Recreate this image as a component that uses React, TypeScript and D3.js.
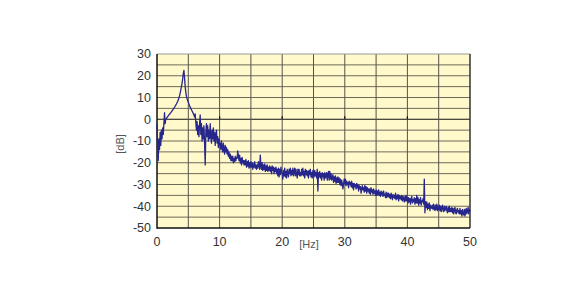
import React from "react";
import * as d3 from "d3";

const FREQ_STEP = 0.1;
const db0to10 = [
  -2, -12, -19, -9, -14, -6, -12, -5, -9, -4,
  -7, -2, 3, -2, 0, 0.3, 0.8, 1.2, 1.6, 2.0,
  2.3, 2.7, 3.0, 3.4, 3.8, 4.2, 4.6, 5.0, 5.5, 6.0,
  6.5, 7.0, 7.6, 8.2, 9.0, 9.8, 10.8, 12.0, 13.5, 15.0,
  16.5, 18.5, 21, 22.5, 19, 15, 12.5, 10.5, 9.5, 8.5,
  8, 7, 6.2, 5.6, 5.0, 4.4, 3.8, 3.2, 2.6, 2.0,
  1.0, 2.5, -1.5, -5, -1, -7, -3, -8, -2, 2,
  -7, -2, -10, -4, -9, -3, -11, -21, -6, -2,
  -8, -3, -10, -5, -9, -2, -8, -11, -5, -9,
  -4, -10, -6, -12, -7, -5, -11, -8, -13, -9,
];
const db10to20 = [
  -12, -11, -14, -10, -13, -15, -11, -14, -16, -12,
  -15, -13, -16, -14, -17, -15, -18, -16, -19, -17,
  -19, -17, -20, -18, -19.5, -17, -19, -17.5, -18, -14.5,
  -17, -19, -16.5, -20, -18, -21, -17.5, -20, -19, -21,
  -19, -21, -18.5, -22, -19.5, -21.5, -19, -22.5, -20, -22,
  -19.5, -22, -20, -23, -20.5, -22, -19.5, -22.5, -21, -23,
  -21, -22.5, -19.5, -21, -23, -16.5, -21.5, -23, -20, -23.5,
  -21, -23, -20.5, -24, -21.5, -23.5, -21, -24, -22, -23.5,
  -21.5, -24, -22, -25, -21.5, -23.5, -22, -25, -22.5, -24,
  -22, -25, -23, -26, -22.5, -26.5, -23, -25.5, -22, -24.5,
];
const db20to30 = [
  -25, -27.5, -23.5, -26, -22.5, -26.5, -24, -27, -23, -25,
  -26.5, -23, -25, -22.5, -26, -23.5, -25.5, -22.5, -26, -24,
  -22.5, -26, -23, -25.5, -27, -23, -25.5, -23, -26, -24.5,
  -26, -23, -25.5, -22.5, -26, -24, -27, -23, -25.5, -23.5,
  -26, -24, -27, -23.5, -25.5, -23, -26.5, -24.5, -27, -23.5,
  -25, -26.5, -23.5, -26, -24.5, -27, -23, -33, -24.5, -26.5,
  -24, -27, -25, -28, -24.5, -26.5, -25, -28, -24.5, -27,
  -26, -24.5, -28, -25.5, -24, -28, -24, -27.5, -25, -28,
  -27, -25.5, -29, -26.5, -28.5, -26, -29.5, -27, -29, -26.5,
  -29, -27, -30, -27.5, -30.5, -28, -29.5, -32, -30, -27.5,
];
const db30to40 = [
  -29.5, -27.5, -30.5, -28.5, -30, -29, -31.5, -28.5, -30, -29,
  -31, -28.5, -31.5, -29.5, -32.5, -29.5, -31, -30, -32, -29.5,
  -31.5, -30, -33, -30.5, -32, -31, -34, -32, -30.5, -32.5,
  -31.5, -33.5, -30.5, -33, -31, -34, -31.5, -33, -32, -34,
  -32, -34.5, -31.5, -33.5, -32.5, -34.5, -32, -34, -33, -35,
  -32.5, -35, -33, -34.5, -32.5, -35, -33.5, -35.5, -33, -34.5,
  -33.5, -35.5, -33, -35, -34.5, -36, -33.5, -36, -34, -35.5,
  -34, -36, -34.5, -36.5, -34, -35.5, -37, -34.5, -36, -35,
  -36.5, -34, -37, -35, -36.5, -34.5, -37.5, -35, -36.5, -35.5,
  -37, -35, -37.5, -35.5, -36.5, -38, -35.5, -37.5, -35, -37.5,
];
const db40to50 = [
  -36, -38.5, -36, -38, -36.5, -39, -36.5, -35.5, -38.5, -37,
  -38, -36, -39, -36.5, -38.5, -35, -38.5, -36, -39.5, -37,
  -38.5, -36, -39.5, -37.5, -38, -36.5, -39, -27.5, -43, -38,
  -40.5, -38, -41.5, -39, -41, -38.5, -42, -39.5, -40.5, -41,
  -39.5, -41.5, -39, -41, -42, -39.5, -41.5, -39, -42, -40,
  -41.5, -39.5, -42, -40, -42.5, -40.5, -39.5, -42, -42.5, -40,
  -42, -41, -40, -42, -43, -40.5, -42.5, -40, -42.5, -41,
  -42.5, -40.5, -43, -41, -43.5, -41.5, -40.5, -43, -43.5, -41.5,
  -41, -43, -42, -43.5, -41, -43.5, -42, -44.5, -41.5, -43.5,
  -44, -41.5, -44.5, -42, -41, -43.5, -42, -40.5, -43.5, -41.5,
  -42.5,
];

const xTicks = [0, 10, 20, 30, 40, 50];
const yTicks = [30, 20, 10, 0, -10, -20, -30, -40, -50];
const xLabel = "[Hz]";
const yLabel = "[dB]";

const W = 583;
const H = 300;
const M = { left: 157, top: 54, right: 470, bottom: 228 };

export default function App() {
  const dbValues = [...db0to10, ...db10to20, ...db20to30, ...db30to40, ...db40to50];
  const points: [number, number][] = dbValues.map((v, i) => [i * FREQ_STEP, v]);

  const x = d3.scaleLinear().domain([0, 50]).range([M.left, M.right]);
  const y = d3.scaleLinear().domain([-50, 30]).range([M.bottom, M.top]);

  const line = d3
    .line<[number, number]>()
    .x((d) => x(d[0]))
    .y((d) => y(d[1]));

  const vGrid = d3.range(5, 50, 5);
  const hGrid = d3.range(-45, 30, 5);
  const font = "Liberation Sans, Arial, sans-serif";

  return (
    <svg
      width={W}
      height={H}
      style={{ position: "absolute", left: 0, top: 0, background: "#fff" }}
    >
      <rect
        x={M.left}
        y={M.top}
        width={M.right - M.left}
        height={M.bottom - M.top}
        fill="#FFF9CC"
      />
      {hGrid.map((v) => (
        <line
          key={"h" + v}
          x1={M.left}
          x2={M.right}
          y1={y(v)}
          y2={y(v)}
          stroke={v === 0 ? "#111" : "#6e6a5a"}
          strokeWidth={v === 0 ? 1.2 : 1}
        />
      ))}
      {vGrid.map((v) => (
        <line
          key={"v" + v}
          x1={x(v)}
          x2={x(v)}
          y1={M.top}
          y2={M.bottom}
          stroke="#55534a"
          strokeWidth={1}
        />
      ))}
      {xTicks.slice(1, -1).map((t) => (
        <line
          key={"zt" + t}
          x1={x(t)}
          x2={x(t)}
          y1={y(0) - 3}
          y2={y(0)}
          stroke="#111"
          strokeWidth={1.2}
        />
      ))}
      {/* frame */}
      <line x1={M.left} x2={M.right} y1={M.top} y2={M.top} stroke="#999" strokeWidth={1} />
      <line x1={M.right} x2={M.right} y1={M.top} y2={M.bottom} stroke="#333" strokeWidth={1.5} />
      <line x1={M.left} x2={M.left} y1={M.top} y2={M.bottom + 0.75} stroke="#111" strokeWidth={1.5} />
      <line x1={M.left} x2={M.right} y1={M.bottom} y2={M.bottom} stroke="#111" strokeWidth={1.5} />

      <path
        d={line(points) || ""}
        fill="none"
        stroke="#26268c"
        strokeWidth={1.3}
        strokeLinejoin="round"
      />

      {yTicks.map((t) => (
        <text
          key={"yt" + t}
          x={151}
          y={y(t)}
          dy="0.35em"
          textAnchor="end"
          fontFamily={font}
          fontSize={12.5}
          fill="#333"
        >
          {t}
        </text>
      ))}
      {xTicks.map((t) => (
        <text
          key={"xt" + t}
          x={x(t)}
          y={246}
          textAnchor="middle"
          fontFamily={font}
          fontSize={12.5}
          fill="#333"
        >
          {t}
        </text>
      ))}
      <text
        x={309}
        y={248}
        textAnchor="middle"
        fontFamily={font}
        fontSize={11}
        fill="#555"
      >
        {xLabel}
      </text>
      <text
        transform={`translate(124,${144}) rotate(-90)`}
        textAnchor="middle"
        fontFamily={font}
        fontSize={11}
        fill="#555"
      >
        {yLabel}
      </text>
    </svg>
  );
}
